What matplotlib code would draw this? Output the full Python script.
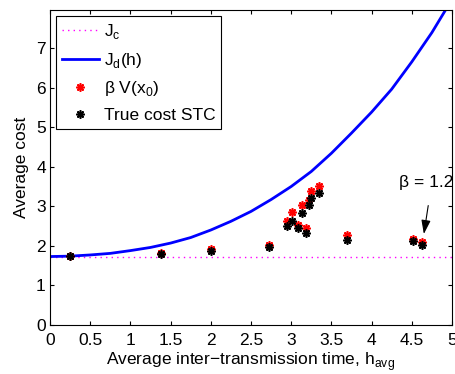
import numpy as np
import matplotlib
matplotlib.use("Agg")
import matplotlib.pyplot as plt
from matplotlib.ticker import FormatStrFormatter

plt.rcParams['font.family'] = ['Liberation Sans', 'DejaVu Sans']
plt.rcParams['mathtext.fontset'] = 'custom'
plt.rcParams['mathtext.rm'] = 'Liberation Sans'

FS = 12.5

# continuous-time optimal cost (constant)
J_c = 1.73

# J_d(h)
h_curve = [0.0, 0.25, 0.5, 0.75, 1.0, 1.25, 1.5, 1.75, 2.0, 2.25, 2.5,
           2.75, 3.0, 3.25, 3.5, 3.75, 4.0, 4.25, 4.5, 4.75, 5.0]
J_d = [1.73, 1.74, 1.77, 1.81, 1.88, 1.96, 2.07, 2.21, 2.40, 2.62, 2.87,
       3.17, 3.50, 3.88, 4.34, 4.85, 5.38, 5.96, 6.65, 7.39, 8.23]

# self-triggered control results
h_avg = [0.25, 1.38, 2.00, 2.72, 2.95, 3.01, 3.08, 3.13, 3.19, 3.22, 3.25,
         3.35, 3.69, 4.52, 4.63]
beta_V = [1.75, 1.83, 1.92, 2.01, 2.63, 2.86, 2.52, 3.04, 2.44, 3.16, 3.38,
          3.50, 2.27, 2.17, 2.09]
true_cost = [1.74, 1.80, 1.87, 1.96, 2.50, 2.62, 2.44, 2.84, 2.32, 3.02, 3.22,
             3.33, 2.14, 2.12, 2.01]

fig = plt.figure(figsize=(4.55, 3.74), dpi=100)
ax = fig.add_axes([50 / 455, 49 / 374, 402 / 455, 315 / 374])

ax.plot([0, 5], [J_c, J_c], color='#ff00ff', lw=1.0, linestyle=(0, (1, 3)),
        label='J$_\\mathregular{c}$')
ax.plot(h_curve, J_d, color='#0000ff', lw=2.0, label='J$_\\mathregular{d}$(h)')
star = (8, 2, 0)
ax.plot(h_avg, beta_V, linestyle='none', marker=star, ms=6, mew=1.2,
        color='#ff0000', label='\u03b2 V(x$_\\mathregular{0}$)')
ax.plot(h_avg, true_cost, linestyle='none', marker=star, ms=6, mew=1.2,
        color='black', label='True cost STC')

ax.annotate('\u03b2 = 1.2', xy=(4.65, 2.30), xytext=(4.68, 3.59),
            ha='center', va='center', fontsize=FS,
            arrowprops=dict(arrowstyle='-|>,head_length=0.6,head_width=0.2',
                            color='black', lw=0.8, relpos=(0.6, 0.5),
                            mutation_scale=14, shrinkA=9, shrinkB=0))

ax.set_xlim(0, 5)
ax.set_ylim(0, 7.96)
ax.set_xticks(np.arange(0, 5.01, 0.5))
ax.set_yticks(range(0, 8))
ax.xaxis.set_major_formatter(FormatStrFormatter('%g'))
ax.tick_params(direction='in', top=True, right=True, labelsize=FS, length=3)
ax.tick_params(axis='x', pad=6)
ax.tick_params(axis='y', pad=3)
for s in ax.spines.values():
    s.set_linewidth(0.8)

ax.set_xlabel('Average inter\u2212transmission time, h$_\\mathregular{avg}$',
              fontsize=FS, labelpad=1)
ax.set_ylabel('Average cost', fontsize=FS, labelpad=5)

leg = ax.legend(loc='upper left', bbox_to_anchor=(0.015, 0.981),
                borderaxespad=0, fontsize=FS, fancybox=False,
                framealpha=1, edgecolor='black', labelspacing=0.55,
                handlelength=2.1, handletextpad=0.3, borderpad=0.35)
leg.get_frame().set_linewidth(0.8)

fig.savefig('out.png', dpi=100)
